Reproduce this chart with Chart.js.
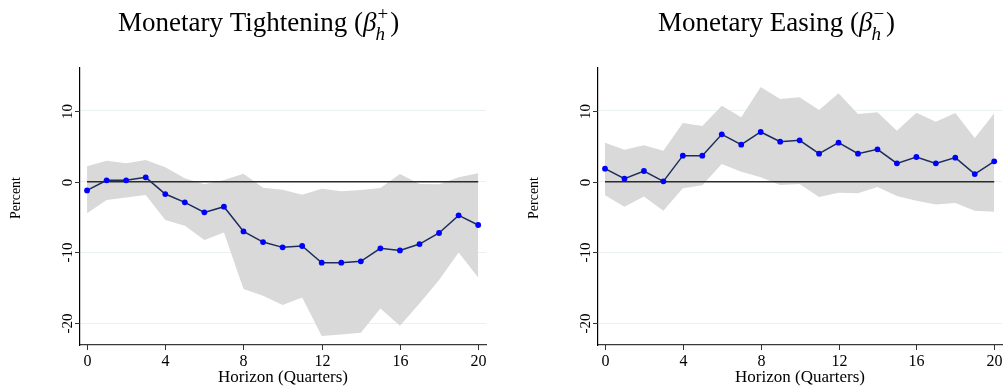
<!DOCTYPE html>
<html>
<head>
<meta charset="utf-8">
<script src="https://cdn.jsdelivr.net/npm/chart.js@4.4.1/dist/chart.umd.min.js"></script>
<style>
  html, body { margin: 0; padding: 0; background: #ffffff; }
  #wrap { position: relative; width: 1006px; height: 392px; }
  canvas { position: absolute; top: 0; }
  #cTight { left: 0; }
  #cEase { left: 503px; }
</style>
</head>
<body>
<div id="wrap">
  <canvas id="cTight" width="503" height="392"></canvas>
  <canvas id="cEase" width="503" height="392"></canvas>
</div>
<script>
// Horizons (quarters after the shock)
const horizons = [0, 1, 2, 3, 4, 5, 6, 7, 8, 9, 10, 11, 12, 13, 14, 15, 16, 17, 18, 19, 20];
const xTicks = [0, 4, 8, 12, 16, 20];
const yTicks = [-20, -10, 0, 10];

// Monetary tightening: point estimates and confidence band (percent)
const tightEst   = [-1.23, 0.19, 0.19, 0.61, -1.75, -2.92, -4.34, -3.54, -7.03, -8.54, -9.29, -9.10, -11.46, -11.46, -11.27, -9.43, -9.72, -8.82, -7.26, -4.76, -6.13];
const tightUpper = [2.2, 2.97, 2.6, 3.07, 2.03, 0.47, -0.38, 0.24, 1.13, -0.85, -1.13, -1.84, -0.99, -1.37, -1.18, -0.9, 1.08, -0.33, -0.38, 0.61, 1.18];
const tightLower = [-4.48, -2.59, -2.22, -1.89, -5.42, -6.23, -8.25, -7.17, -15.19, -16.13, -17.45, -16.37, -21.84, -21.6, -21.37, -17.92, -20.38, -17.22, -13.92, -10.0, -13.54];

// Monetary easing: point estimates and confidence band (percent)
const easeEst   = [1.84, 0.42, 1.51, 0.05, 3.68, 3.68, 6.7, 5.24, 7.03, 5.66, 5.85, 3.96, 5.52, 3.96, 4.58, 2.59, 3.49, 2.59, 3.4, 1.08, 2.88];
const easeUpper = [5.52, 4.53, 5.14, 4.39, 8.3, 7.88, 10.75, 9.1, 13.4, 11.7, 11.93, 10.14, 12.5, 9.58, 9.81, 7.22, 9.76, 8.49, 9.72, 6.18, 9.67];
const easeLower = [-1.93, -3.54, -2.08, -4.1, -0.94, -0.52, 2.5, 1.42, 0.61, -0.47, -0.33, -2.17, -1.56, -1.65, -0.75, -2.03, -2.69, -3.21, -3.02, -4.1, -4.25];

const SERIF = '"Liberation Serif", "Times New Roman", serif';

function pts(ys) {
  return horizons.map((h, i) => ({ x: h, y: ys[i] }));
}

// Title, rotated y tick labels, tick marks and axis titles
function decorPlugin(cfg) {
  return {
    id: 'decor',
    afterDraw(chart) {
      const ctx = chart.ctx;
      const xs = chart.scales.x, ys = chart.scales.y;
      const area = chart.chartArea;
      ctx.save();
      ctx.fillStyle = '#000';
      ctx.strokeStyle = '#333';
      ctx.lineWidth = 1;

      // x tick marks and labels
      ctx.font = '16px ' + SERIF;
      ctx.textAlign = 'center';
      ctx.textBaseline = 'middle';
      xTicks.forEach(t => {
        const px = Math.round(xs.getPixelForValue(t)) + 0.5;
        ctx.beginPath();
        ctx.moveTo(px, area.bottom);
        ctx.lineTo(px, area.bottom + 5);
        ctx.stroke();
        ctx.fillText(String(t), px, 362);
      });

      // y tick marks and rotated labels
      ctx.font = '15px ' + SERIF;
      yTicks.forEach(t => {
        const py = Math.round(ys.getPixelForValue(t)) + 0.5;
        ctx.beginPath();
        ctx.moveTo(area.left - 5, py);
        ctx.lineTo(area.left, py);
        ctx.stroke();
        ctx.save();
        ctx.translate(area.left - 12, py);
        ctx.rotate(-Math.PI / 2);
        ctx.fillText(String(t), 0, 0);
        ctx.restore();
      });

      // axis titles
      ctx.font = '17px ' + SERIF;
      ctx.fillText('Horizon (Quarters)', (area.left + area.right) / 2, 378);
      ctx.font = '14px ' + SERIF;
      ctx.save();
      ctx.translate(area.left - 64, 198);
      ctx.rotate(-Math.PI / 2);
      ctx.fillText('Percent', 0, 0);
      ctx.restore();

      // panel title with beta_h^{sign}
      const base = 31;
      ctx.textAlign = 'left';
      ctx.textBaseline = 'alphabetic';
      let x = cfg.titleX;
      ctx.font = '27px ' + SERIF;
      const head = cfg.title + ' (';
      ctx.fillText(head, x, base);
      x += ctx.measureText(head).width;
      ctx.font = 'italic 27px ' + SERIF;
      ctx.fillText('\u03B2', x, base);
      x += ctx.measureText('\u03B2').width;
      ctx.font = '19px ' + SERIF;
      ctx.fillText(cfg.sign, x + 1, base - 11);
      const wSign = ctx.measureText(cfg.sign).width;
      ctx.font = 'italic 19px ' + SERIF;
      ctx.fillText('h', x - 1, base + 9);
      const wH = ctx.measureText('h').width;
      x += Math.max(wSign + 1, wH - 1) + 2;
      ctx.font = '27px ' + SERIF;
      ctx.fillText(')', x, base);
      ctx.restore();
    }
  };
}

function makeChart(id, est, upper, lower, cfg) {
  return new Chart(document.getElementById(id), {
    type: 'line',
    data: {
      datasets: [
        {
          data: pts(est),
          borderColor: '#1c2d5c',
          borderWidth: 1.5,
          pointRadius: 2.9,
          pointBackgroundColor: '#0000ff',
          pointBorderColor: '#0000ff',
          pointBorderWidth: 0,
          fill: false,
          tension: 0
        },
        {
          data: [{ x: 0, y: 0 }, { x: 20, y: 0 }],
          borderColor: '#2b2b2b',
          borderWidth: 1.4,
          pointRadius: 0,
          fill: false
        },
        {
          data: pts(upper),
          borderColor: 'rgba(0,0,0,0)',
          borderWidth: 0,
          pointRadius: 0,
          fill: false
        },
        {
          data: pts(lower),
          borderColor: 'rgba(0,0,0,0)',
          borderWidth: 0,
          pointRadius: 0,
          backgroundColor: '#d9d9d9',
          fill: { target: 2 }
        }
      ]
    },
    options: {
      responsive: false,
      animation: false,
      events: [],
      layout: { padding: cfg.padding },
      plugins: {
        legend: { display: false },
        tooltip: { enabled: false },
        title: { display: false }
      },
      scales: {
        x: {
          type: 'linear',
          min: -0.36,
          max: 20.4,
          ticks: { display: false },
          grid: { display: false, drawTicks: false },
          border: { display: true, color: '#3a3a3a', width: 1.2 },
          afterFit(s) { s.height = 0; }
        },
        y: {
          type: 'linear',
          min: -23.1,
          max: 16.08,
          afterBuildTicks(s) { s.ticks = yTicks.map(v => ({ value: v })); },
          ticks: { display: false },
          grid: { display: true, drawTicks: false, color: '#e9f1f3', lineWidth: 1 },
          border: { display: true, color: '#000000', width: 1.2 },
          afterFit(s) { s.width = 0; }
        }
      }
    },
    plugins: [decorPlugin(cfg)]
  });
}

makeChart('cTight', tightEst, tightUpper, tightLower, {
  title: 'Monetary Tightening',
  sign: '+',
  titleX: 118,
  padding: { left: 80, right: 17, top: 68, bottom: 47 }
});

makeChart('cEase', easeEst, easeUpper, easeLower, {
  title: 'Monetary Easing',
  sign: '\u2212',
  titleX: 155,
  padding: { left: 95, right: 2, top: 68, bottom: 47 }
});
</script>
</body>
</html>
